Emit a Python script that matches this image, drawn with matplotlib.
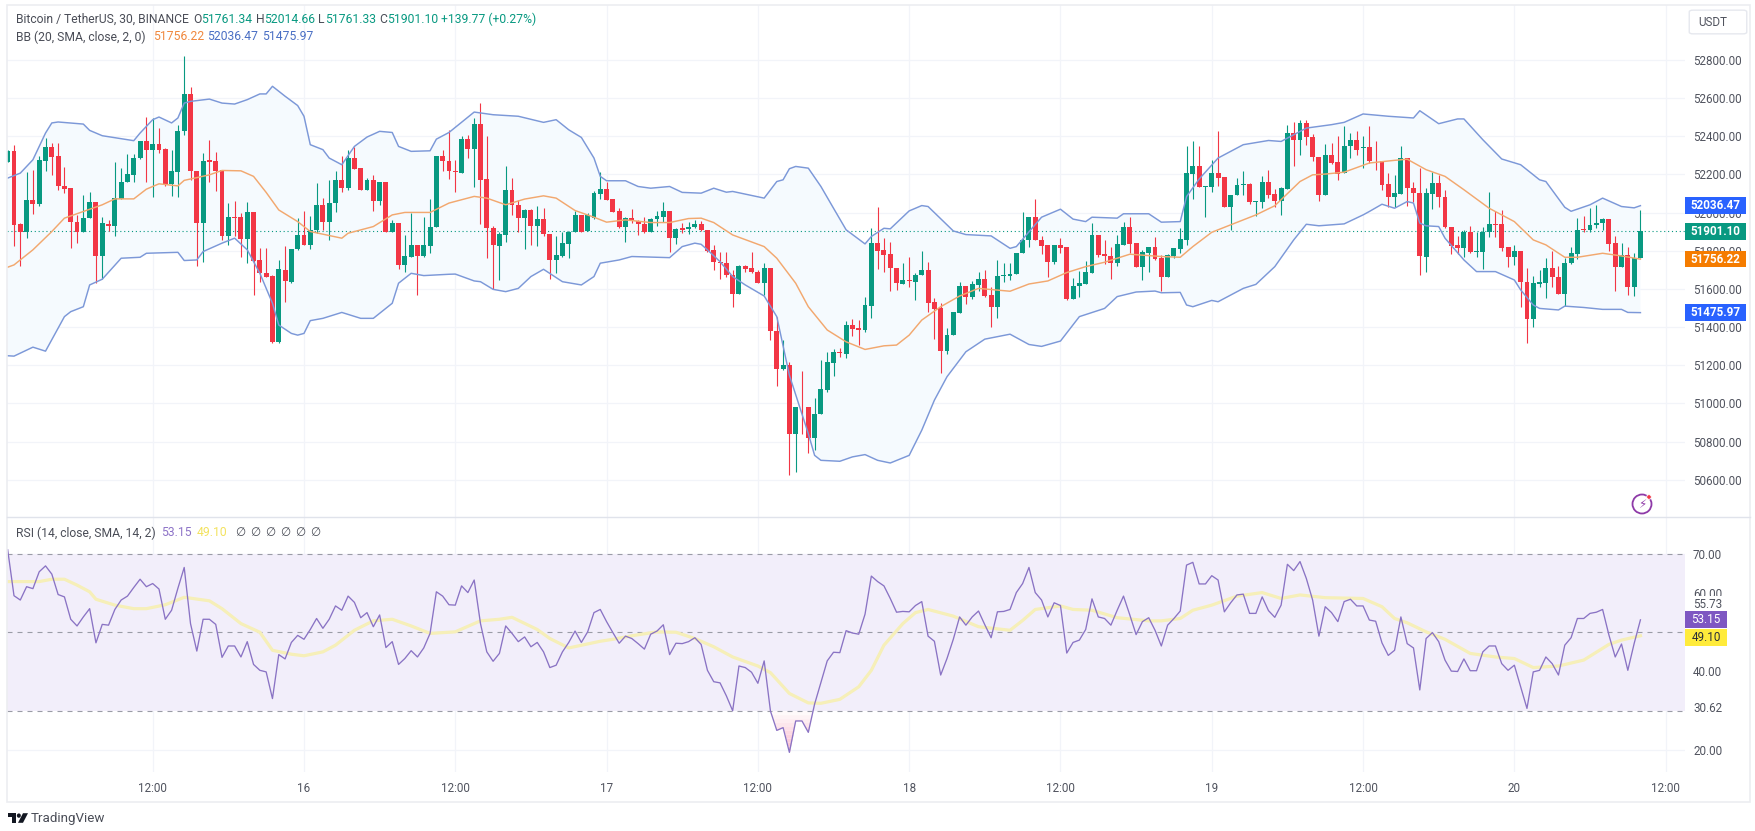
import numpy as np
import matplotlib
matplotlib.use('Agg')
import matplotlib.pyplot as plt
from matplotlib.patches import Rectangle, FancyBboxPatch, Circle, Polygon
from matplotlib.transforms import blended_transform_factory

plt.rcParams['font.family'] = ['Roboto', 'DejaVu Sans']

# 30 min candles, first one is cut by the left edge
opens = [52263, 52324, 51939, 51901, 52067, 52046, 52270, 52345, 52295, 52140,
         52128, 51953, 51899, 51971, 52057, 51773, 51943, 51931, 52074, 52161,
         52198, 52286, 52377, 52326, 52359, 52335, 52151, 52214, 52426, 52624,
         52219, 51948, 52274, 52268, 52225, 51875, 51979, 51979, 51864, 52004,
         51752, 51686, 51668, 51320, 51700, 51638, 51808, 51882, 51831, 51910,
         52041, 51950, 52048, 52170, 52128, 52284, 52233, 52120, 52170, 52062,
         52162, 51896, 51945, 51726, 51770, 51829, 51775, 51827, 51924, 52298,
         52270, 52218, 52210, 52385, 52336, 52464, 52176, 51922, 51827, 51885,
         52118, 52041, 51971, 52013, 51931, 51967, 51890, 51754, 51775, 51838,
         51899, 51985, 51903, 51974, 52099, 52123, 52071, 52006, 51924, 51974,
         51957, 51939, 51896, 51967, 51979, 52009, 51869, 51917, 51913, 51925,
         51943, 51910, 51803, 51742, 51736, 51673, 51575, 51719, 51710, 51691,
         51633, 51710, 51381, 51183, 51201, 50839, 50984, 50984, 50821, 50947,
         51073, 51213, 51271, 51259, 51411, 51393, 51385, 51512, 51840, 51805,
         51782, 51712, 51628, 51645, 51637, 51673, 51701, 51530, 51500, 51276,
         51357, 51476, 51617, 51556, 51621, 51654, 51568, 51507, 51670, 51670,
         51678, 51787, 51854, 51979, 51859, 51831, 51740, 51829, 51819, 51546,
         51615, 51626, 51682, 51883, 51784, 51773, 51735, 51832, 51924, 51840,
         51714, 51791, 51820, 51761, 51661, 51775, 51810, 51857, 52204, 52242,
         52135, 52134, 52207, 52186, 52028, 52090, 52144, 52151, 52058, 52058,
         52160, 52099, 52063, 52125, 52417, 52382, 52470, 52398, 52293, 52093,
         52303, 52263, 52207, 52347, 52380, 52338, 52345, 52272, 52270, 52149,
         52081, 52099, 52284, 52128, 52102, 51770, 52099, 52154, 52084, 51927,
         51829, 51817, 51899, 51796, 51796, 51899, 51939, 51939, 51820, 51770,
         51799, 51638, 51441, 51626, 51633, 51712, 51665, 51574, 51735, 51784,
         51913, 51908, 51936, 51948, 51966, 51840, 51714, 51777, 51612, 51761.34]
highs = [52330, 52352, 51948, 52212, 52221, 52295, 52391, 52365, 52365, 52239,
         52128, 51988, 52093, 52106, 52057, 51979, 51962, 52263, 52233, 52309,
         52309, 52377, 52501, 52496, 52443, 52338, 52326, 52461, 52820, 52659,
         52219, 52312, 52382, 52317, 52225, 52050, 52062, 51997, 52058, 52004,
         51813, 51813, 51673, 51752, 51826, 51810, 51971, 52006, 51983, 52154,
         52076, 52172, 52216, 52295, 52330, 52344, 52233, 52184, 52198, 52160,
         52162, 51962, 51945, 51883, 51997, 51829, 51979, 52070, 52298, 52330,
         52435, 52277, 52399, 52408, 52496, 52574, 52403, 51931, 51901, 52246,
         52181, 52067, 52018, 52018, 52036, 52023, 51890, 51875, 51901, 51906,
         52006, 51988, 51997, 52111, 52211, 52163, 52071, 52023, 51979, 52018,
         51962, 51976, 51971, 52006, 52057, 52009, 51918, 51948, 51953, 51959,
         51955, 51910, 51831, 51792, 51796, 51700, 51726, 51726, 51796, 51700,
         51738, 51710, 51451, 51332, 51218, 50984, 51171, 50984, 51026, 51227,
         51271, 51283, 51288, 51433, 51442, 51437, 51560, 51918, 52032, 51866,
         51845, 51712, 51738, 51766, 51682, 51799, 51740, 51551, 51525, 51397,
         51477, 51638, 51617, 51642, 51691, 51700, 51612, 51752, 51735, 51735,
         51789, 52001, 51979, 52072, 51878, 51831, 51831, 51866, 51819, 51656,
         51696, 51747, 51948, 51883, 51857, 51822, 51883, 51953, 51979, 51840,
         51805, 51819, 51871, 51778, 51783, 51813, 51918, 52351, 52377, 52351,
         52139, 52274, 52429, 52186, 52093, 52181, 52216, 52154, 52062, 52193,
         52221, 52123, 52134, 52461, 52473, 52487, 52487, 52412, 52293, 52359,
         52365, 52399, 52452, 52417, 52426, 52399, 52456, 52377, 52270, 52207,
         52198, 52347, 52284, 52163, 52233, 52128, 52211, 52198, 52116, 51927,
         51878, 51910, 51931, 51901, 51927, 52107, 52006, 52014, 51820, 51831,
         51799, 51712, 51668, 51700, 51761, 51801, 51722, 51761, 51818, 51974,
         51983, 52023, 52041, 51974, 51966, 51878, 51840, 51822, 51787, 52014.66]
lows = [52263, 51826, 51721, 51866, 51994, 52036, 52216, 52198, 52116, 52102,
        51817, 51843, 51899, 51971, 51633, 51651, 51906, 51875, 52074, 52161,
        52158, 52280, 52163, 52084, 52312, 52137, 52088, 52084, 52408, 52172,
        51722, 51743, 52163, 52111, 51854, 51831, 51878, 51770, 51735, 51568,
        51638, 51661, 51315, 51318, 51533, 51630, 51805, 51831, 51808, 51892,
        51910, 51854, 52001, 52106, 52116, 52230, 52120, 52120, 52011, 52041,
        51896, 51896, 51703, 51691, 51770, 51568, 51770, 51787, 51924, 52216,
        52177, 52106, 52210, 52286, 52134, 51941, 51761, 51598, 51647, 51848,
        51988, 51901, 51808, 51831, 51826, 51875, 51652, 51682, 51770, 51761,
        51899, 51897, 51903, 51966, 52074, 52067, 52002, 51918, 51848, 51945,
        51883, 51892, 51896, 51931, 51953, 51796, 51833, 51892, 51889, 51918,
        51906, 51796, 51700, 51651, 51664, 51503, 51575, 51691, 51682, 51630,
        51568, 51332, 51091, 51175, 50623, 50641, 50842, 50741, 50755, 50947,
        51061, 51143, 51245, 51236, 51353, 51306, 51376, 51446, 51703, 51691,
        51591, 51595, 51624, 51609, 51542, 51673, 51481, 51339, 51161, 51259,
        51357, 51476, 51521, 51547, 51591, 51560, 51402, 51446, 51638, 51647,
        51678, 51787, 51819, 51857, 51784, 51664, 51731, 51791, 51542, 51546,
        51560, 51626, 51682, 51766, 51731, 51651, 51722, 51832, 51791, 51714,
        51647, 51691, 51752, 51591, 51661, 51761, 51787, 51831, 52071, 52132,
        51976, 52106, 52137, 52028, 51910, 52090, 52093, 52044, 51983, 52023,
        52076, 52028, 51988, 52125, 52245, 52303, 52356, 52268, 52062, 52093,
        52256, 52169, 52207, 52286, 52303, 52233, 52260, 52225, 52120, 52028,
        52032, 52099, 52036, 52058, 51673, 51691, 52018, 52028, 51918, 51784,
        51784, 51766, 51791, 51770, 51707, 51871, 51871, 51801, 51714, 51726,
        51503, 51315, 51402, 51612, 51551, 51609, 51574, 51510, 51731, 51756,
        51901, 51901, 51918, 51910, 51801, 51591, 51714, 51568, 51563, 51761.33]
closes = [52324, 51936, 51901, 52067, 52046, 52274, 52345, 52291, 52137, 52125,
          51950, 51899, 51974, 52057, 51773, 51945, 51931, 52076, 52163, 52200,
          52287, 52377, 52326, 52359, 52330, 52149, 52216, 52429, 52624, 52219,
          51948, 52272, 52265, 52219, 51875, 51979, 51974, 51864, 52001, 51749,
          51682, 51661, 51320, 51703, 51642, 51810, 51882, 51831, 51910, 52041,
          51950, 52050, 52170, 52128, 52284, 52230, 52120, 52170, 52063, 52160,
          51896, 51945, 51726, 51773, 51829, 51775, 51829, 51927, 52298, 52270,
          52216, 52214, 52387, 52336, 52464, 52172, 51922, 51829, 51889, 52118,
          52039, 51971, 52013, 51931, 51967, 51889, 51754, 51777, 51840, 51901,
          51985, 51897, 51985, 52104, 52123, 52067, 52002, 51924, 51974, 51957,
          51938, 51896, 51967, 51981, 52009, 51869, 51915, 51910, 51925, 51943,
          51910, 51801, 51740, 51735, 51673, 51575, 51720, 51707, 51687, 51633,
          51710, 51381, 51183, 51199, 50839, 50984, 50980, 50821, 50947, 51077,
          51215, 51271, 51262, 51411, 51390, 51385, 51516, 51840, 51801, 51780,
          51708, 51630, 51645, 51640, 51675, 51701, 51528, 51495, 51276, 51360,
          51477, 51617, 51560, 51624, 51654, 51565, 51507, 51670, 51671, 51680,
          51789, 51857, 51979, 51857, 51827, 51743, 51831, 51817, 51546, 51615,
          51630, 51687, 51883, 51780, 51773, 51735, 51836, 51924, 51836, 51714,
          51794, 51819, 51756, 51661, 51778, 51813, 51862, 52207, 52242, 52132,
          52139, 52207, 52181, 52028, 52093, 52144, 52151, 52058, 52062, 52160,
          52093, 52063, 52128, 52417, 52382, 52470, 52394, 52291, 52093, 52303,
          52260, 52204, 52351, 52380, 52330, 52344, 52268, 52268, 52146, 52081,
          52102, 52284, 52128, 52102, 51773, 52102, 52154, 52081, 51924, 51826,
          51817, 51899, 51796, 51799, 51901, 51938, 51936, 51813, 51770, 51797,
          51635, 51441, 51630, 51637, 51712, 51661, 51574, 51738, 51787, 51911,
          51908, 51936, 51948, 51966, 51836, 51714, 51777, 51612, 51761, 51901.10]

bb_upper_idx = [-1, 1, 3, 4, 5, 6, 7, 11, 12, 14, 19, 20, 22, 23, 25, 26, 27, 28, 31, 33, 35, 37, 39, 40, 41,
                43, 45, 46, 47, 49, 50, 52, 54, 56, 58, 60, 61, 63, 66, 67, 69, 73, 76, 80, 84, 86, 88, 90,
                92, 93, 94, 97, 99, 101, 104, 106, 109, 111, 113, 114, 119, 121, 122, 123, 124, 126, 128,
                130, 132, 135, 136, 138, 139, 142, 144, 145, 149, 151, 155, 158, 159, 163, 166, 168, 170,
                171, 175, 176, 180, 182, 185, 186, 188, 191, 195, 199, 201, 205, 209, 211, 214, 218, 222,
                223, 226, 229, 230, 233, 236, 239, 242, 243, 246, 247, 250, 252, 255, 257, 258]
bb_upper = [52181, 52207, 52277, 52347, 52417, 52470, 52475, 52464, 52431, 52403, 52377, 52417, 52487, 52501,
            52470, 52496, 52574, 52583, 52595, 52574, 52569, 52592, 52622, 52622, 52662, 52610, 52561, 52505,
            52356, 52330, 52286, 52251, 52347, 52396, 52426, 52420, 52347, 52321, 52324, 52385, 52420, 52527,
            52513, 52505, 52473, 52487, 52434, 52394, 52286, 52190, 52167, 52167, 52137, 52128, 52137, 52106,
            52102, 52128, 52107, 52111, 52076, 52163, 52172, 52230, 52242, 52233, 52137, 52023, 51910, 51836,
            51875, 51918, 51915, 52009, 52037, 52032, 51904, 51885, 51878, 51813, 51822, 51976, 52018, 51966,
            51953, 51976, 51971, 51994, 51994, 51950, 51953, 52084, 52176, 52286, 52356, 52378, 52373, 52443,
            52461, 52473, 52517, 52505, 52496, 52534, 52466, 52491, 52491, 52382, 52281, 52251, 52172, 52163,
            52028, 52007, 52041, 52076, 52032, 52025, 52036.47]
bb_lower_idx = [-1, 0, 3, 5, 8, 9, 11, 12, 14, 17, 20, 21, 26, 27, 29, 30, 33, 35, 37, 39, 41, 42, 44, 45, 46,
                47, 49, 52, 55, 57, 60, 61, 63, 65, 69, 70, 73, 74, 76, 78, 80, 82, 84, 87, 90, 92, 93, 96,
                98, 104, 106, 108, 109, 110, 112, 114, 116, 119, 121, 123, 126, 127, 128, 131, 133, 135,
                137, 139, 142, 144, 146, 148, 151, 154, 158, 161, 163, 166, 169, 173, 175, 178, 181, 182,
                185, 186, 187, 190, 191, 195, 197, 200, 203, 205, 207, 211, 214, 215, 217, 219, 221, 222,
                223, 224, 226, 227, 230, 232, 235, 238, 239, 241, 242, 245, 246, 249, 252, 255, 256, 258]
bb_lower = [51250, 51248, 51295, 51274, 51455, 51481, 51507, 51621, 51651, 51761, 51766, 51787, 51792, 51749,
            51752, 51796, 51840, 51866, 51805, 51682, 51525, 51411, 51367, 51358, 51367, 51434, 51446, 51477,
            51446, 51446, 51525, 51630, 51682, 51670, 51677, 51678, 51642, 51638, 51598, 51586, 51603, 51665,
            51703, 51638, 51621, 51665, 51735, 51752, 51770, 51764, 51822, 51840, 51834, 51805, 51743, 51665,
            51621, 51563, 51455, 51148, 50842, 50728, 50702, 50697, 50720, 50732, 50702, 50688, 50728, 50860,
            51017, 51140, 51271, 51337, 51363, 51309, 51299, 51327, 51455, 51498, 51560, 51584, 51589, 51580,
            51582, 51516, 51507, 51540, 51533, 51603, 51624, 51717, 51857, 51939, 51931, 51941, 51988, 52006,
            52044, 52023, 52058, 52050, 51945, 51931, 51927, 51866, 51752, 51691, 51691, 51647, 51595, 51516,
            51498, 51490, 51510, 51503, 51493, 51493, 51477, 51475.97]
bb_basis_idx = [-1, 0, 3, 6, 8, 11, 14, 16, 19, 21, 23, 26, 27, 31, 33, 36, 38, 40, 42, 45, 47, 52, 53, 57, 60,
                62, 66, 69, 73, 75, 78, 81, 84, 86, 89, 92, 94, 97, 101, 104, 107, 109, 111, 114, 119, 121,
                124, 126, 129, 132, 135, 138, 140, 142, 144, 147, 150, 153, 158, 161, 164, 167, 170, 173,
                177, 182, 185, 187, 190, 193, 197, 200, 204, 206, 208, 211, 215, 219, 221, 224, 227, 230,
                234, 238, 241, 243, 246, 248, 252, 255, 258]
bb_basis = [51714, 51726, 51805, 51901, 51971, 52006, 52041, 52072, 52072, 52123, 52151, 52140, 52169, 52198,
            52221, 52219, 52190, 52106, 52014, 51953, 51901, 51866, 51892, 51927, 51988, 52001, 52001, 52050,
            52085, 52076, 52041, 52071, 52088, 52076, 52011, 51976, 51950, 51962, 51948, 51948, 51969, 51971,
            51948, 51883, 51822, 51761, 51630, 51507, 51385, 51323, 51283, 51302, 51306, 51358, 51437, 51507,
            51563, 51603, 51588, 51626, 51642, 51686, 51717, 51740, 51782, 51770, 51766, 51822, 51897, 51936,
            51988, 52036, 52163, 52198, 52202, 52212, 52260, 52274, 52280, 52225, 52190, 52120, 52023, 51953,
            51857, 51831, 51766, 51766, 51787, 51773, 51756.22]

rsi = [71, 59.3, 58.2, 61.6, 61.1, 65.4, 66.9, 64.8, 59.6, 59, 53.3, 51.6, 53.9, 56, 47.3, 52, 51.8, 55.8, 58.2,
       59.2, 61.4, 63.5, 61.6, 62.4, 61, 53.3, 55.6, 61.2, 66.5, 52.2, 45.2, 53.3, 53.3, 52, 43.6, 46.5, 46.5,
       43.7, 47.6, 41.8, 40.3, 39.9, 33.1, 44.3, 43.2, 47.4, 49.2, 48.2, 50.7, 53.5, 51, 53.3, 56.7, 55.6, 59.2,
       57.6, 53.7, 55, 51.4, 54.4, 46.1, 47.6, 41.8, 43.3, 45.3, 43.7, 46, 49.7, 60.3, 59.2, 57, 56.9, 61.8, 60.1,
       63.3, 52.2, 45, 42.6, 44.6, 51.6, 49.7, 47.6, 48.8, 46.3, 47.4, 45, 41, 41.6, 45, 47.4, 50.3, 47.4, 50.1,
       55, 55.8, 52.7, 49.9, 47.2, 49, 48.4, 47.1, 45.7, 49.5, 50.3, 51.9, 44.3, 47.2, 47.1, 47.6, 48.6, 46.9,
       40.3, 37.4, 37.1, 33.8, 30, 41.4, 41, 39.8, 37, 42.7, 29.9, 25, 25.7, 19.4, 27.4, 27.4, 24.5, 31.7, 37.2,
       42.7, 44.9, 44.8, 50.4, 49.8, 49.5, 54.6, 64.3, 62.9, 61.8, 58.6, 55.1, 55.3, 55.2, 56.8, 57.8, 49, 47.7,
       39.1, 43.3, 48.2, 53.9, 51.8, 53.9, 55.4, 51.9, 48.6, 55.2, 55.3, 55.8, 60.1, 62.4, 66.5, 60.1, 58.2, 53.9,
       57.5, 56.8, 44.7, 47.4, 48, 50.7, 58.5, 53.9, 53.5, 51.8, 55.6, 59.2, 54.4, 49.4, 52.7, 53.7, 50.5, 46.5,
       51.8, 53.5, 55.4, 67.1, 67.8, 62.3, 62.3, 64.4, 63.3, 55.2, 57.5, 59.5, 59.7, 54.8, 54.8, 59, 55.5, 53.8,
       56.9, 67.3, 65.7, 68, 63.7, 58.2, 49, 56.5, 55, 52.7, 57.8, 58.4, 56.7, 56.7, 53.1, 52.8, 47.3, 44.1, 45.4,
       53.9, 47.1, 46, 35.3, 48.4, 49.9, 47.6, 42.9, 40.1, 40, 43.2, 40.2, 40.2, 45, 46.5, 46.5, 42, 40.3, 41.6,
       36.1, 30.6, 39.9, 40.3, 43.7, 42, 39.1, 46.7, 48.6, 53.5, 53.5, 54.8, 55.1, 55.8, 49.3, 43.7, 47, 40.3,
       47.1, 53.15]
rsi_ma_idx = [-1, 2, 4, 6, 8, 10, 12, 13, 16, 19, 21, 24, 27, 31, 33, 36, 39, 41, 44, 46, 49, 51, 54, 57, 60, 63,
              66, 70, 74, 77, 79, 83, 85, 88, 93, 95, 98, 102, 105, 108, 111, 114, 118, 120, 123, 126, 128, 131,
              134, 136, 138, 141, 143, 145, 149, 153, 158, 160, 162, 166, 168, 171, 175, 180, 182, 185, 187, 190,
              194, 198, 201, 204, 208, 214, 217, 219, 221, 224, 227, 231, 235, 238, 241, 245, 249, 253, 255, 258]
rsi_ma = [62.9, 62.9, 62.9, 63.5, 63.5, 62, 60.3, 58.4, 56.9, 56, 56, 57, 58.9, 58, 56, 52.2, 50, 45.4, 44.4, 44,
          45, 46.7, 50.5, 52.9, 53.3, 51.6, 49.7, 50.1, 52.9, 53.3, 53.8, 50.7, 48.4, 46, 47.7, 48.2, 49.1, 50.1,
          50, 48.4, 46.3, 43.7, 41.4, 39.7, 34.4, 32, 31.9, 32.9, 36.1, 40.3, 46.7, 52.2, 55, 55.8, 54.1, 51.4,
          50.5, 53, 55.8, 56.7, 55.8, 55.6, 53.7, 52.9, 52.9, 53.5, 55.6, 56.9, 59.2, 60.1, 58.6, 59.5, 58.8, 58.6,
          56.5, 53.5, 52.4, 50.1, 48.2, 44.6, 43.7, 43.3, 41, 41.4, 42.9, 46.9, 48, 49.1]

tick_idx = [22, 46, 70, 94, 118, 142, 166, 190, 214, 238, 262]
tick_labels = ['12:00', '16', '12:00', '17', '12:00', '18', '12:00', '19', '12:00', '20', '12:00']
price_ticks = [50600, 50800, 51000, 51200, 51400, 51600, 51800, 52000, 52200, 52400, 52600, 52800]
rsi_ticks = [20, 40, 60, 70]

UP = '#089981'
DOWN = '#F23645'
GRID = '#F2F4F9'
TXT = '#50535E'
W, H = 1756, 831


def fx(px):
    return px / W


def fy(py):
    return 1 - py / H


fig = plt.figure(figsize=(W / 100, H / 100), dpi=100, facecolor='white')
ax = fig.add_axes([fx(7), fy(517), fx(1678), (517 - 5) / H])
ax2 = fig.add_axes([fx(7), fy(772), fx(1678), (772 - 517) / H])

x = np.arange(len(opens)) - 1
opens, highs, lows, closes = map(np.array, (opens, highs, lows, closes))
cols = np.where(closes >= opens, UP, DOWN)

# price pane
ax.fill(np.r_[bb_upper_idx, bb_lower_idx[::-1]], np.r_[bb_upper, bb_lower[::-1]], color='#F5FAFE', lw=0, zorder=1)
ax.vlines(x, lows, highs, colors=cols, lw=0.8, zorder=3)
heights = np.maximum(np.abs(closes - opens), 4)
ax.bar(x, heights, bottom=np.minimum(opens, closes), width=0.78, color=cols, lw=0, zorder=3)
ax.plot(bb_upper_idx, bb_upper, color='#7C98D8', lw=1.05, zorder=4)
ax.plot(bb_lower_idx, bb_lower, color='#7C98D8', lw=1.05, zorder=4)
ax.plot(bb_basis_idx, bb_basis, color='#F2A86F', lw=1.05, zorder=4)
ax.axhline(closes[-1], color=UP, lw=0.8, ls=(0, (1, 2.5)), zorder=2)
ax.set_xlim(-1.11, 265.07)
ax.set_ylim(50405, 53088)
ax.set_yticks(price_ticks)
ax.set_yticklabels(['%.2f' % p for p in price_ticks], fontsize=8.4, color=TXT)
ax.yaxis.tick_right()
ax.tick_params(axis='y', length=0, pad=5.8)
ax.set_xticks(tick_idx)
ax.tick_params(axis='x', length=0, labelbottom=False)
ax.grid(True, color=GRID, lw=0.9, zorder=0)
ax.set_axisbelow(True)

# rsi pane
ax2.axhspan(30, 70, color='#F2EEFA', lw=0, zorder=1)
for lev in [70, 50, 30]:
    ax2.axhline(lev, color='#9A9CA6', lw=0.8, ls=(0, (4.5, 4.5)), zorder=2)
xr = np.arange(len(rsi)) - 1
# oversold part fades from white at 30 to pink at the bottom
xf = np.linspace(xr[0], xr[-1], 4000)
rf = np.interp(xf, xr, rsi)
for lo, c in zip(range(19, 30), np.linspace(0.0, 1.0, 11)):
    shade = tuple(np.array([0.98, 0.72, 0.80]) * (1 - c) + np.array([1.0, 0.98, 0.98]) * c)
    ax2.fill_between(xf, np.clip(rf, lo, lo + 1), lo + 1, color=shade, lw=0, zorder=1)
ax2.plot(rsi_ma_idx, rsi_ma, color='#F6EFB8', lw=2.3, zorder=3)
ax2.plot(xr, rsi, color='#8A73C4', lw=0.95, zorder=4)
ax2.set_xlim(-1.11, 265.07)
ax2.set_ylim(14.4, 79.35)
ax2.set_yticks(rsi_ticks)
ax2.set_yticklabels(['%.2f' % p for p in rsi_ticks], fontsize=8.4, color=TXT)
ax2.yaxis.tick_right()
ax2.tick_params(axis='y', length=0, pad=5.8)
ax2.set_xticks(tick_idx)
ax2.set_xticklabels(tick_labels, fontsize=8.4, color=TXT)
ax2.tick_params(axis='x', length=0, pad=7.5)
ax2.grid(True, color=GRID, lw=0.9, zorder=0)
ax2.set_axisbelow(True)

for a in (ax, ax2):
    for s in a.spines.values():
        s.set_visible(False)
    a.patch.set_alpha(0)

# value tags on the price scale
tr = blended_transform_factory(ax.transAxes, ax.transData)
for val, col in [(52036.47, '#2962FF'), (closes[-1], UP), (51756.22, '#F57C00'), (51475.97, '#2962FF')]:
    ax.add_patch(Rectangle((1, val - 43), 61 / 1678, 86, transform=tr, color=col, lw=0, clip_on=False, zorder=9))
    ax.text(1 + 30.5 / 1678, val, '%.2f' % val, transform=tr, color='white', fontsize=8.4, fontweight='bold',
            ha='center', va='center', zorder=10, clip_on=False)

tr2 = blended_transform_factory(ax2.transAxes, ax2.transData)
for val, txt, bg, fg in [(53.15, '53.15', '#7E57C2', 'white'), (48.6, '49.10', '#FFEB3B', '#2A2E39')]:
    ax2.add_patch(Rectangle((1, val - 2.15), 42 / 1678, 4.3, transform=tr2, color=bg, lw=0, clip_on=False, zorder=9))
    ax2.text(1 + 21 / 1678, val, txt, transform=tr2, color=fg, fontsize=8.4, ha='center', va='center',
             zorder=10, clip_on=False)
for val, txt in [(57.1, '55.73'), (30.5, '30.62')]:
    ax2.text(1 + 8 / 1678, val, txt, transform=tr2, color=TXT, fontsize=8.4, ha='left', va='center', zorder=8,
             clip_on=False, bbox=dict(fc='white', ec='none', pad=1))

# legends
dark = '#4A4D57'
for px, py, s, c in [(16, 19.5, 'Bitcoin / TetherUS, 30, BINANCE', dark),
                     (193, 19.5, 'O', dark), (201, 19.5, '51761.34', UP),
                     (256, 19.5, 'H', dark), (264, 19.5, '52014.66', UP),
                     (318, 19.5, 'L', dark), (325, 19.5, '51761.33', UP),
                     (379, 19.5, 'C', dark), (387, 19.5, '51901.10', UP),
                     (441, 19.5, '+139.77 (+0.27%)', UP),
                     (16, 37, 'BB (20, SMA, close, 2, 0)', dark),
                     (153, 37, '51756.22', '#F0883E'), (207, 37, '52036.47', '#4A6FC4'),
                     (262, 37, '51475.97', '#4A6FC4'),
                     (16, 533, 'RSI (14, close, SMA, 14, 2)', dark),
                     (161, 533, '53.15', '#8E74C8'), (197, 533, '49.10', '#F3E25E')]:
    fig.text(fx(px), fy(py), s, color=c, fontsize=8.7, ha='left', va='center')
for px in [235, 250, 265, 280, 295, 310]:
    fig.text(fx(px), fy(533), '\u2205', color=dark, fontsize=8.4, ha='left', va='center')

# frame, separator, currency button
fig.add_artist(Rectangle((fx(7), fy(802)), fx(1743), (802 - 5) / H, transform=fig.transFigure, fc='none',
                         ec='#ECEDF1', lw=1.2))
fig.add_artist(plt.Line2D([fx(7), fx(1750)], [fy(517), fy(517)], transform=fig.transFigure, color='#E0E3EB', lw=1))
fig.add_artist(FancyBboxPatch((fx(1691), fy(33)), fx(54), 22 / H, boxstyle='round,pad=0.001,rounding_size=0.002',
                              transform=fig.transFigure, fc='white', ec='#E6E8EE', lw=1))
fig.text(fx(1698), fy(23), 'USDT', color=TXT, fontsize=8.4, ha='left', va='center')

# lightning badge
bolt = fig.add_axes([fx(1630), fy(516), fx(24), 24 / H])
bolt.set_xlim(0, 24)
bolt.set_ylim(24, 0)
bolt.axis('off')
bolt.add_patch(Circle((12, 12), 9.5, fc='white', ec='#8E3AA8', lw=1.3))
bolt.add_patch(Circle((19, 5), 2.3, fc=DOWN, ec='white', lw=0.6))
bolt.text(12, 12.5, '\u26A1', family=['DejaVu Sans'], color='#8E3AA8', fontsize=8.5, ha='center', va='center')

# footer, logo drawn from simple shapes
logo = fig.add_axes([fx(8), fy(824), fx(20), 12 / H])
logo.set_xlim(0, 36)
logo.set_ylim(20, 0)
logo.axis('off')
logo.add_patch(Polygon([(0, 2), (14, 2), (14, 18), (7, 18), (7, 9), (0, 9)], fc='#131722', lw=0))
logo.add_patch(Circle((19.5, 6), 3.6, fc='#131722', lw=0))
logo.add_patch(Polygon([(27, 2), (36, 2), (27, 18), (18, 18)], fc='#131722', lw=0))
fig.text(fx(30.5), fy(818.5), 'TradingView', color='#4A4D57', fontsize=9.6, ha='left', va='center')

fig.savefig('out.png', dpi=100, facecolor='white')
